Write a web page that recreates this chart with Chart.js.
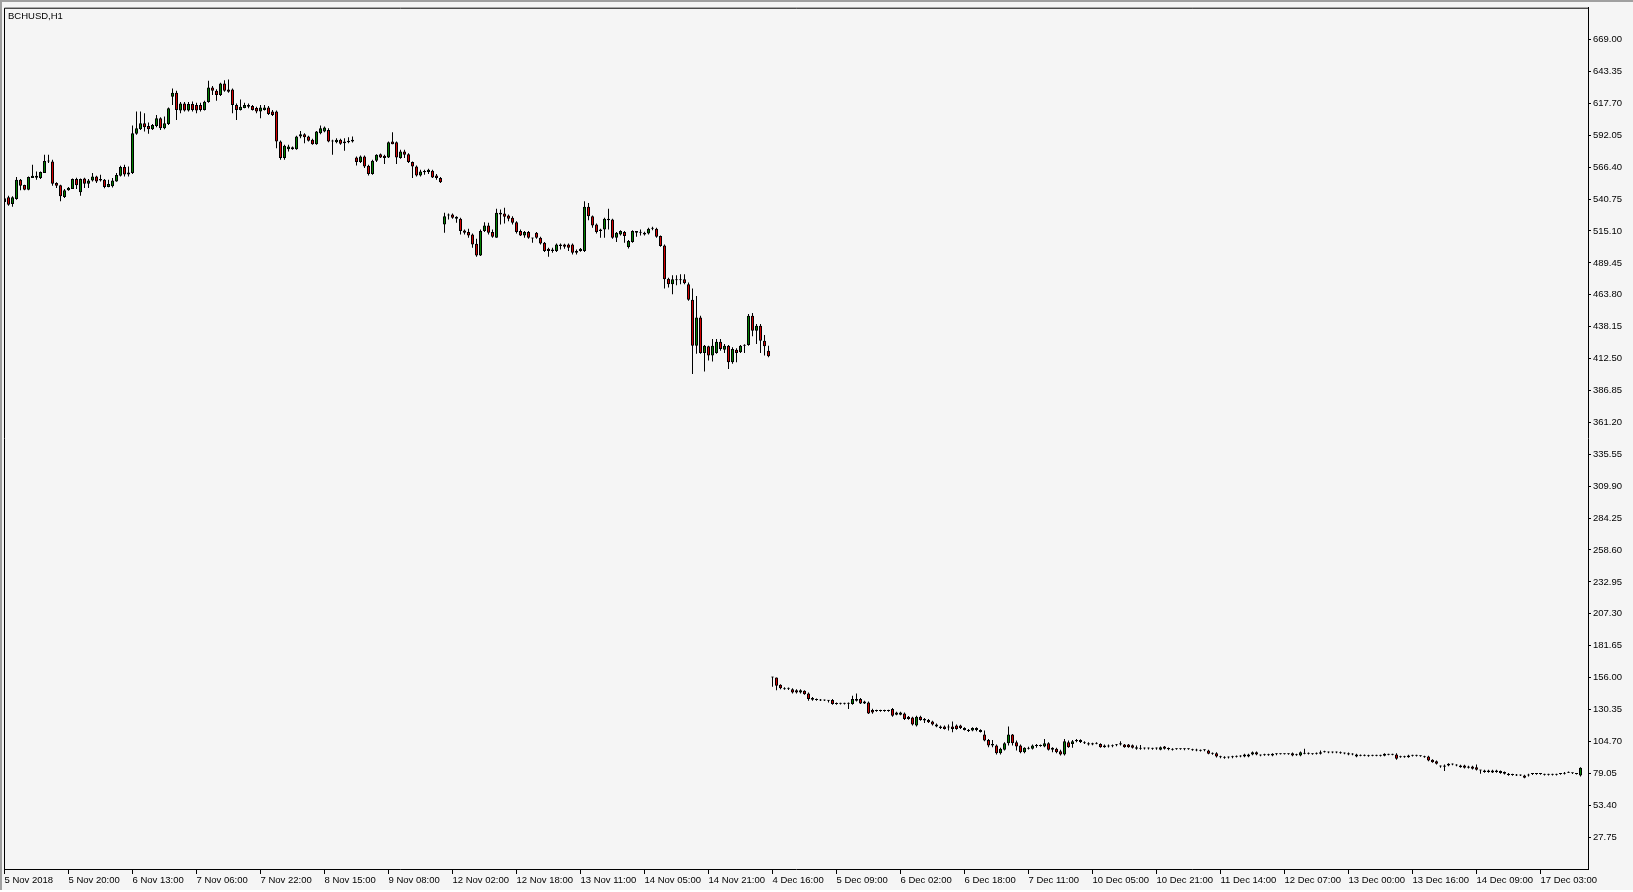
<!DOCTYPE html>
<html>
<head>
<meta charset="utf-8">
<title>BCHUSD,H1</title>
<script src="https://cdn.jsdelivr.net/npm/chart.js@4.4.1/dist/chart.umd.min.js"></script>
<style>
  html, body { margin: 0; padding: 0; background: #f5f5f5; }
  #wrap { width: 1633px; height: 892px; position: relative; }
</style>
</head>
<body>
<div id="wrap"><canvas id="chart"></canvas></div>
<script>
const symbol = "BCHUSD,H1";

// one label every 16 bars
const barsPerLabel = 16;
const tickLabels = [
  "5 Nov 2018", "5 Nov 20:00", "6 Nov 13:00", "7 Nov 06:00", "7 Nov 22:00",
  "8 Nov 15:00", "9 Nov 08:00", "12 Nov 02:00", "12 Nov 18:00", "13 Nov 11:00",
  "14 Nov 05:00", "14 Nov 21:00", "4 Dec 16:00", "5 Dec 09:00", "6 Dec 02:00",
  "6 Dec 18:00", "7 Dec 11:00", "10 Dec 05:00", "10 Dec 21:00", "11 Dec 14:00",
  "12 Dec 07:00", "13 Dec 00:00", "13 Dec 16:00", "14 Dec 09:00", "17 Dec 03:00"
];

const priceTicks = [
  27.75, 53.40, 79.05, 104.70, 130.35, 156.00, 181.65, 207.30, 232.95, 258.60,
  284.25, 309.90, 335.55, 361.20, 386.85, 412.50, 438.15, 463.80, 489.45, 515.10,
  540.75, 566.40, 592.05, 617.70, 643.35, 669.00
];
const priceMin = 2.10, priceMax = 694.65;

// hourly bars, oldest first
const open = [
  538.5, 542.2, 536.9, 540.9, 556.3, 552.1, 548.3, 557.7, 559.5, 557.7,
  561.7, 571.0, 571.0, 553.7, 551.8, 542.5, 547.8, 548.9, 556.9, 546.2,
  557.4, 553.1, 555.8, 559.0, 556.9, 556.3, 550.5, 551.0, 555.0, 559.5,
  566.5, 562.2, 561.7, 593.2, 596.9, 601.7, 599.6, 596.9, 599.6, 605.7,
  597.7, 601.2, 623.1, 626.3, 611.9, 617.7, 611.9, 617.2, 616.4, 616.4,
  612.4, 618.8, 630.5, 627.9, 624.4, 633.7, 628.9, 628.9, 616.4, 612.4,
  614.0, 616.4, 615.6, 614.0, 611.1, 612.4, 614.5, 611.1, 611.1, 587.0,
  573.7, 580.9, 580.9, 580.9, 591.1, 592.9, 591.1, 588.4, 584.9, 593.7,
  595.1, 596.4, 587.8, 586.5, 588.4, 587.0, 586.5, 587.0, 574.2, 570.5,
  575.0, 567.6, 560.9, 571.6, 576.9, 575.6, 574.2, 587.0, 586.5, 573.7,
  579.0, 576.9, 570.5, 567.0, 559.8, 562.4, 562.5, 563.6, 559.8, 557.7,
  520.3, 527.5, 528.3, 526.5, 524.9, 515.5, 514.2, 512.3, 504.9, 495.5,
  515.0, 519.5, 514.2, 509.7, 529.7, 529.1, 527.5, 525.7, 522.2, 515.0,
  511.5, 514.2, 509.7, 513.7, 509.7, 505.7, 500.9, 499.0, 499.0, 504.3,
  504.3, 504.3, 504.3, 499.0, 499.0, 499.0, 534.5, 527.0, 520.3, 516.3,
  516.3, 524.9, 524.3, 509.7, 512.3, 514.2, 502.2, 506.2, 515.0, 514.2,
  513.7, 513.1, 517.7, 516.9, 511.0, 503.5, 476.8, 472.3, 475.5, 476.3,
  476.3, 472.3, 459.8, 422.9, 445.6, 417.1, 422.4, 414.9, 417.1, 426.1,
  419.7, 422.9, 409.6, 419.7, 417.6, 422.9, 423.5, 446.9, 434.9, 438.9,
  426.9, 418.9, 156.3, 156.0, 150.2, 147.5, 147.5, 146.7, 145.9, 144.1,
  145.4, 143.3, 139.5, 138.7, 138.1, 137.9, 137.9, 137.9, 135.2, 135.2,
  135.2, 135.2, 134.7, 138.7, 138.7, 136.8, 136.0, 129.9, 129.4, 129.4,
  129.4, 129.4, 130.7, 126.2, 126.2, 127.2, 124.6, 124.0, 117.4, 124.6,
  122.7, 121.9, 120.8, 118.2, 116.6, 116.6, 115.8, 116.6, 117.4, 117.4,
  115.5, 113.9, 113.4, 115.5, 113.9, 110.2, 105.9, 102.7, 101.4, 95.2,
  97.9, 103.2, 110.2, 104.0, 101.4, 96.0, 99.5, 98.7, 101.4, 101.4,
  100.5, 103.2, 99.5, 98.7, 96.8, 94.2, 104.0, 102.7, 104.8, 105.9,
  104.0, 103.2, 103.2, 103.2, 102.7, 101.4, 100.5, 101.4, 102.2, 102.2,
  102.2, 102.2, 101.6, 99.9, 99.5, 99.2, 99.2, 98.9, 99.2, 97.9,
  100.5, 99.3, 98.7, 98.7, 98.7, 98.4, 98.4, 97.9, 97.9, 97.4,
  97.6, 97.4, 95.2, 95.2, 92.5, 92.0, 92.0, 92.5, 92.8, 93.1,
  92.5, 92.5, 94.1, 96.0, 94.1, 94.1, 94.1, 94.7, 94.7, 94.7,
  94.7, 94.7, 95.2, 94.1, 93.4, 95.2, 95.2, 94.7, 95.2, 94.7,
  96.5, 96.0, 96.0, 96.0, 96.0, 95.2, 95.2, 94.7, 94.1, 93.4,
  93.4, 93.4, 93.4, 93.4, 93.4, 93.1, 94.1, 94.1, 94.1, 92.5,
  92.5, 93.4, 93.4, 93.4, 93.4, 92.8, 92.5, 89.9, 88.8, 85.3,
  85.3, 85.3, 86.1, 85.9, 85.3, 85.3, 84.6, 84.6, 84.0, 81.9,
  81.3, 81.3, 81.3, 81.3, 80.8, 80.0, 78.7, 78.1, 77.9, 77.6,
  77.3, 77.3, 78.4, 78.7, 78.7, 78.1, 78.1, 78.1, 78.1, 78.4,
  78.7, 79.5, 79.2, 78.7, 77.3
];
const high = [
  543.0, 543.5, 543.0, 558.5, 556.9, 552.3, 559.0, 568.4, 563.0, 563.0,
  576.4, 576.4, 572.4, 554.2, 552.3, 548.9, 550.5, 557.4, 557.9, 557.4,
  557.9, 556.9, 561.7, 559.6, 560.4, 556.9, 556.3, 557.7, 561.7, 567.6,
  568.4, 567.0, 600.0, 611.1, 611.1, 609.7, 602.3, 601.2, 608.4, 606.5,
  607.1, 614.5, 629.7, 627.9, 618.8, 618.8, 618.8, 619.3, 618.3, 618.3,
  619.9, 635.9, 631.6, 629.0, 634.3, 636.4, 637.0, 629.7, 617.7, 620.9,
  618.3, 617.7, 616.4, 615.1, 616.4, 616.4, 615.6, 612.4, 611.9, 587.8,
  584.4, 584.4, 583.0, 591.6, 595.6, 593.7, 591.6, 589.2, 595.6, 599.9,
  599.1, 597.7, 588.4, 589.7, 589.2, 589.7, 590.5, 591.1, 575.0, 575.8,
  575.8, 568.4, 572.4, 576.9, 577.4, 576.4, 587.0, 594.5, 587.0, 580.4,
  580.4, 577.7, 571.0, 567.8, 564.4, 564.4, 565.2, 564.4, 560.9, 558.5,
  529.7, 529.1, 529.1, 527.0, 525.7, 516.3, 516.9, 513.1, 508.9, 516.3,
  522.2, 521.7, 516.3, 532.9, 532.3, 533.7, 528.3, 527.0, 523.0, 516.3,
  515.0, 515.0, 509.7, 514.2, 510.5, 506.2, 501.7, 501.7, 505.1, 505.1,
  504.9, 505.1, 505.1, 500.3, 501.5, 539.0, 537.7, 527.5, 521.1, 516.9,
  525.7, 532.9, 524.9, 514.2, 515.8, 515.0, 507.8, 515.8, 515.0, 516.3,
  514.5, 517.7, 518.5, 517.7, 511.5, 504.3, 477.6, 479.5, 479.5, 480.3,
  480.3, 473.6, 468.8, 462.9, 446.9, 423.5, 422.9, 428.3, 428.3, 428.3,
  424.3, 423.5, 421.6, 420.8, 423.5, 424.0, 448.3, 449.1, 440.3, 440.3,
  431.4, 422.9, 156.6, 156.0, 150.7, 148.3, 148.0, 147.5, 146.7, 146.7,
  145.9, 144.1, 140.5, 139.2, 138.7, 138.4, 137.9, 138.7, 136.0, 135.7,
  135.7, 136.0, 141.4, 143.3, 139.5, 137.4, 136.8, 130.9, 130.2, 130.2,
  130.2, 130.2, 131.5, 128.6, 128.6, 128.0, 125.2, 124.6, 125.4, 125.4,
  123.5, 122.7, 121.4, 119.0, 117.4, 117.4, 118.2, 120.8, 118.2, 118.0,
  116.0, 114.7, 116.0, 116.0, 114.4, 113.4, 106.7, 105.9, 102.2, 99.5,
  104.0, 116.6, 110.7, 105.4, 102.2, 100.0, 100.3, 102.2, 102.7, 102.2,
  106.7, 104.0, 100.0, 99.5, 97.9, 106.7, 105.4, 105.9, 106.7, 106.4,
  104.8, 104.0, 103.7, 104.0, 103.2, 102.2, 102.2, 102.2, 102.7, 104.8,
  102.7, 102.7, 102.2, 101.4, 101.9, 99.7, 99.7, 99.5, 99.7, 100.5,
  101.1, 99.7, 99.2, 99.2, 99.2, 99.2, 99.2, 98.7, 98.7, 98.1,
  98.4, 97.9, 95.7, 96.0, 93.1, 92.8, 92.5, 93.1, 93.4, 93.6,
  94.7, 94.7, 96.5, 96.5, 94.1, 94.7, 94.7, 95.2, 95.2, 95.2,
  95.2, 95.2, 95.7, 94.7, 96.5, 98.7, 95.7, 95.2, 95.7, 97.3,
  97.1, 96.5, 96.5, 96.5, 96.5, 95.7, 95.7, 95.2, 94.7, 94.1,
  94.1, 93.9, 93.9, 93.9, 93.9, 95.2, 94.7, 94.7, 95.2, 93.1,
  93.1, 93.9, 93.9, 93.9, 93.6, 93.1, 93.1, 90.4, 89.4, 85.3,
  86.1, 87.2, 86.9, 86.4, 85.9, 85.9, 85.1, 85.1, 86.1, 81.9,
  81.9, 81.9, 81.9, 81.9, 81.3, 80.5, 79.2, 78.7, 78.4, 78.1,
  77.9, 78.7, 79.2, 79.2, 79.2, 78.7, 78.7, 78.7, 78.7, 79.2,
  80.0, 80.5, 79.7, 79.2, 84.0
];
const low = [
  536.0, 535.5, 534.5, 540.3, 547.8, 547.8, 547.8, 557.7, 556.3, 556.9,
  561.7, 569.7, 551.5, 549.7, 539.0, 541.7, 547.5, 548.9, 548.9, 543.5,
  549.7, 549.7, 555.0, 553.7, 555.0, 549.4, 550.2, 550.0, 554.7, 559.0,
  559.0, 559.0, 560.9, 592.4, 596.4, 595.1, 593.2, 596.4, 598.5, 596.4,
  596.9, 600.4, 616.4, 604.4, 609.7, 611.1, 611.1, 611.1, 609.7, 611.1,
  611.9, 618.3, 624.4, 619.9, 623.6, 627.1, 626.3, 609.7, 604.4, 611.9,
  613.7, 613.7, 611.9, 609.7, 605.7, 611.9, 608.4, 607.6, 581.7, 572.4,
  572.4, 579.0, 580.4, 580.4, 589.7, 585.7, 587.0, 584.4, 584.4, 592.9,
  594.5, 586.5, 576.4, 585.7, 584.4, 579.6, 585.7, 586.2, 567.8, 569.7,
  565.7, 559.8, 560.4, 570.5, 573.7, 568.9, 573.7, 584.9, 568.9, 573.2,
  573.7, 569.7, 557.7, 559.0, 559.0, 560.4, 560.9, 557.7, 556.4, 553.7,
  513.7, 524.3, 524.9, 521.7, 512.3, 512.3, 509.7, 501.7, 494.4, 495.0,
  514.2, 512.3, 509.7, 509.7, 520.3, 521.1, 523.0, 520.3, 513.1, 511.0,
  509.7, 508.9, 505.7, 508.9, 504.3, 498.2, 494.4, 497.7, 498.2, 500.3,
  500.9, 499.0, 496.3, 496.3, 498.5, 498.2, 523.8, 517.7, 513.1, 509.7,
  509.7, 516.3, 508.9, 506.2, 511.5, 505.7, 501.1, 505.7, 510.5, 511.5,
  511.5, 512.3, 515.8, 509.7, 502.5, 468.8, 469.6, 464.3, 471.5, 472.3,
  472.3, 459.0, 400.2, 416.3, 416.3, 402.1, 410.9, 410.1, 416.3, 418.9,
  417.1, 404.2, 408.3, 409.6, 417.1, 417.1, 422.9, 430.4, 424.3, 417.1,
  414.9, 413.6, 148.6, 145.9, 146.7, 146.2, 146.0, 143.3, 143.3, 143.3,
  142.2, 137.4, 137.4, 137.4, 137.1, 137.1, 136.0, 134.2, 134.2, 134.4,
  134.4, 130.7, 134.2, 136.8, 134.7, 134.7, 126.7, 127.0, 128.6, 128.6,
  128.6, 128.6, 124.6, 125.7, 125.7, 121.9, 122.2, 117.4, 116.6, 121.4,
  119.5, 119.5, 117.4, 116.1, 114.7, 114.2, 113.4, 112.0, 114.0, 114.7,
  113.4, 112.3, 112.8, 112.8, 111.8, 104.8, 100.0, 100.0, 94.2, 94.2,
  97.3, 101.4, 101.4, 97.3, 95.2, 95.2, 98.1, 98.1, 99.5, 100.3,
  100.0, 97.3, 96.0, 95.2, 93.4, 93.4, 99.5, 99.5, 104.0, 103.5,
  102.7, 101.4, 101.6, 102.4, 99.5, 99.5, 99.7, 100.0, 100.8, 101.4,
  99.5, 99.5, 99.0, 97.9, 97.9, 98.1, 98.1, 97.9, 97.9, 97.6,
  98.1, 97.6, 97.3, 97.9, 97.9, 97.6, 97.9, 97.1, 96.8, 96.5,
  96.8, 94.4, 93.9, 91.8, 91.2, 90.7, 91.0, 91.2, 91.8, 92.0,
  92.0, 92.0, 93.6, 93.6, 92.8, 93.1, 93.1, 92.8, 93.6, 94.1,
  94.1, 93.9, 92.8, 93.1, 92.8, 94.4, 94.1, 93.9, 94.1, 94.1,
  95.7, 95.2, 95.2, 95.2, 94.7, 94.4, 93.6, 93.6, 92.0, 92.8,
  92.8, 92.3, 92.8, 92.8, 92.5, 92.8, 93.6, 93.6, 89.9, 91.5,
  91.5, 91.5, 92.5, 92.5, 92.3, 91.5, 88.8, 87.5, 86.1, 83.5,
  80.8, 84.8, 85.6, 84.8, 83.5, 83.0, 83.0, 82.2, 81.3, 78.7,
  79.5, 79.5, 79.2, 79.5, 78.7, 78.1, 77.1, 77.1, 76.8, 76.8,
  75.0, 76.5, 77.6, 77.9, 77.9, 77.3, 77.3, 77.3, 77.3, 77.9,
  78.1, 79.2, 78.4, 78.1, 76.5
];
const close = [
  541.5, 536.3, 542.2, 556.3, 551.5, 548.3, 558.5, 559.5, 557.9, 562.5,
  571.3, 571.3, 553.1, 551.5, 543.0, 547.8, 549.9, 556.9, 551.8, 556.9,
  553.1, 555.8, 559.0, 555.0, 555.8, 550.5, 552.9, 555.8, 560.1, 566.5,
  560.6, 560.6, 593.7, 597.7, 601.7, 598.5, 596.9, 600.4, 605.7, 597.7,
  601.7, 613.7, 626.3, 612.4, 617.7, 611.9, 617.2, 612.4, 611.9, 612.4,
  619.1, 630.5, 627.9, 624.4, 633.7, 627.9, 627.1, 616.4, 612.4, 615.1,
  616.4, 615.1, 612.4, 611.1, 614.5, 614.5, 609.2, 608.4, 587.0, 573.7,
  583.6, 583.0, 582.5, 591.0, 592.9, 590.5, 587.6, 584.9, 595.1, 597.7,
  598.3, 587.0, 587.0, 588.4, 585.2, 585.7, 587.6, 588.4, 570.5, 575.0,
  567.0, 560.9, 571.6, 576.4, 574.2, 573.7, 586.5, 584.9, 574.2, 579.0,
  576.4, 570.5, 567.0, 559.8, 563.0, 563.3, 564.4, 558.2, 557.7, 554.2,
  527.0, 528.3, 525.7, 524.9, 515.0, 513.7, 511.5, 504.3, 495.5, 515.0,
  519.5, 513.7, 510.5, 529.7, 528.3, 526.5, 524.9, 521.7, 514.2, 511.5,
  514.2, 509.7, 509.0, 509.7, 505.1, 499.0, 499.0, 500.3, 504.3, 503.0,
  502.5, 501.7, 497.7, 497.7, 500.9, 534.5, 527.0, 519.5, 514.2, 515.0,
  524.9, 523.8, 509.7, 513.7, 515.0, 511.0, 507.0, 515.0, 513.7, 513.7,
  512.3, 516.9, 516.9, 510.5, 503.0, 476.3, 472.3, 476.3, 476.3, 475.5,
  473.1, 459.8, 422.9, 445.6, 417.1, 422.9, 414.9, 422.9, 426.1, 420.3,
  422.9, 409.6, 420.3, 417.1, 422.9, 423.5, 446.9, 434.9, 438.9, 426.9,
  422.4, 414.4, 156.0, 149.4, 147.5, 146.7, 147.0, 144.1, 144.1, 145.9,
  142.7, 138.7, 138.2, 137.9, 137.6, 137.6, 137.4, 134.7, 134.7, 134.9,
  135.0, 134.9, 138.7, 137.4, 135.2, 135.2, 127.2, 128.0, 129.1, 129.1,
  129.1, 129.2, 125.4, 128.0, 128.0, 122.7, 122.7, 118.2, 124.6, 121.9,
  121.6, 120.0, 118.2, 116.6, 115.5, 114.7, 116.0, 114.7, 114.7, 115.5,
  113.9, 113.0, 115.5, 113.9, 112.3, 105.4, 101.4, 101.4, 95.2, 98.7,
  103.2, 110.2, 103.2, 100.5, 96.0, 99.5, 98.7, 101.4, 101.1, 101.1,
  103.2, 97.9, 97.9, 96.0, 94.2, 104.8, 100.0, 104.8, 105.9, 104.3,
  103.2, 102.2, 102.2, 102.9, 100.0, 100.0, 101.4, 100.8, 101.6, 103.2,
  100.0, 100.0, 99.5, 98.7, 98.7, 98.9, 98.9, 98.7, 98.9, 100.0,
  98.7, 98.4, 97.9, 98.4, 98.4, 98.7, 98.7, 97.6, 97.3, 97.1,
  97.9, 94.7, 94.7, 92.5, 92.0, 91.6, 91.8, 92.0, 92.3, 92.5,
  94.1, 94.1, 96.0, 94.1, 93.4, 93.6, 93.6, 93.4, 94.4, 94.4,
  94.4, 94.4, 93.4, 93.6, 96.0, 94.7, 94.7, 94.4, 94.7, 96.0,
  96.0, 95.7, 95.7, 95.7, 95.2, 94.9, 94.1, 94.1, 92.5, 93.1,
  93.1, 92.8, 93.1, 93.1, 93.1, 94.7, 93.9, 93.9, 90.7, 92.0,
  92.0, 92.0, 93.1, 93.1, 92.8, 92.0, 89.4, 88.0, 86.7, 84.6,
  84.3, 86.7, 86.4, 85.3, 84.0, 83.5, 83.5, 82.7, 81.9, 81.3,
  80.0, 80.0, 79.7, 80.0, 79.2, 78.7, 77.6, 77.6, 77.3, 77.3,
  75.5, 77.6, 78.7, 78.4, 78.4, 77.9, 77.9, 77.9, 77.9, 78.7,
  79.5, 80.0, 79.0, 78.4, 83.5
];

const bullColor = "#008000";
const bearColor = "#d40000";
const bgColor = "#f5f5f5";

function candleColor(i) {
  if (close[i] > open[i]) return bullColor;
  if (close[i] < open[i]) return bearColor;
  return "#000000";
}

const wicks = open.map((o, i) => ({ x: i, y: [low[i], high[i]] }));
const bodies = open.map((o, i) => ({ x: i, y: [o, close[i]] }));

const axisFont = { family: "Liberation Sans", size: 9.5 };

// background, window edge, left/top frame and symbol caption
const framePlugin = {
  id: "frame",
  beforeDraw(chart) {
    const { ctx, width, height } = chart;
    ctx.save();
    ctx.fillStyle = bgColor;
    ctx.fillRect(0, 0, width, height);
    ctx.fillStyle = "#a0a0a0";
    ctx.fillRect(0, 0, width, 2);
    ctx.fillRect(0, 0, 2, height);
    ctx.fillStyle = "#ffffff";
    ctx.fillRect(0, height - 2, width, 2);
    ctx.restore();
  },
  afterDraw(chart) {
    const { ctx, chartArea: a } = chart;
    ctx.save();
    ctx.strokeStyle = "#000";
    ctx.lineWidth = 1;
    ctx.beginPath();
    ctx.moveTo(a.left + 0.5, a.bottom);
    ctx.lineTo(a.left + 0.5, a.top + 0.5);
    ctx.lineTo(a.right, a.top + 0.5);
    ctx.stroke();
    ctx.fillStyle = "#000";
    ctx.font = '9.5px "Liberation Sans"';
    ctx.textBaseline = "top";
    ctx.fillText(symbol, a.left + 4, a.top + 4);
    ctx.restore();
  }
};

new Chart(document.getElementById("chart"), {
  type: "bar",
  data: {
    datasets: [
      {
        label: "wick",
        data: wicks,
        backgroundColor: "#000",
        borderWidth: 0,
        barThickness: 1,
        grouped: false,
        inflateAmount: 0,
        order: 2
      },
      {
        label: "body",
        data: bodies,
        backgroundColor: open.map((o, i) => candleColor(i)),
        borderColor: "#000",
        borderWidth: 1,
        borderSkipped: false,
        barThickness: 3,
        minBarLength: 1,
        grouped: false,
        inflateAmount: 0,
        order: 1
      }
    ]
  },
  options: {
    responsive: true,
    maintainAspectRatio: false,
    devicePixelRatio: 1,
    animation: false,
    events: [],
    layout: { padding: { left: 4, top: 4, right: 0, bottom: 0 } },
    plugins: { legend: { display: false }, tooltip: { enabled: false } },
    scales: {
      x: {
        type: "linear",
        min: -0.125,
        max: open.length + 0.875,
        offset: false,
        afterBuildTicks: s => { s.ticks = tickLabels.map((t, k) => ({ value: k * barsPerLabel })); },
        afterFit: s => { s.height = 23; },
        ticks: {
          callback: (v, k) => tickLabels[k],
          align: "start",
          maxRotation: 0,
          autoSkip: false,
          padding: 1,
          color: "#000",
          font: axisFont
        },
        grid: { drawOnChartArea: false, offset: false, tickLength: 5, color: "#000" },
        border: { display: true, color: "#000" }
      },
      y: {
        position: "right",
        min: priceMin,
        max: priceMax,
        afterBuildTicks: s => { s.ticks = priceTicks.map(v => ({ value: v })); },
        afterFit: s => { s.width = 45; },
        ticks: {
          callback: v => v.toFixed(2),
          autoSkip: false,
          padding: 2,
          color: "#000",
          font: axisFont
        },
        grid: { drawOnChartArea: false, tickLength: 3, color: "#000" },
        border: { display: true, color: "#000" }
      }
    }
  },
  plugins: [framePlugin]
});
</script>
</body>
</html>
